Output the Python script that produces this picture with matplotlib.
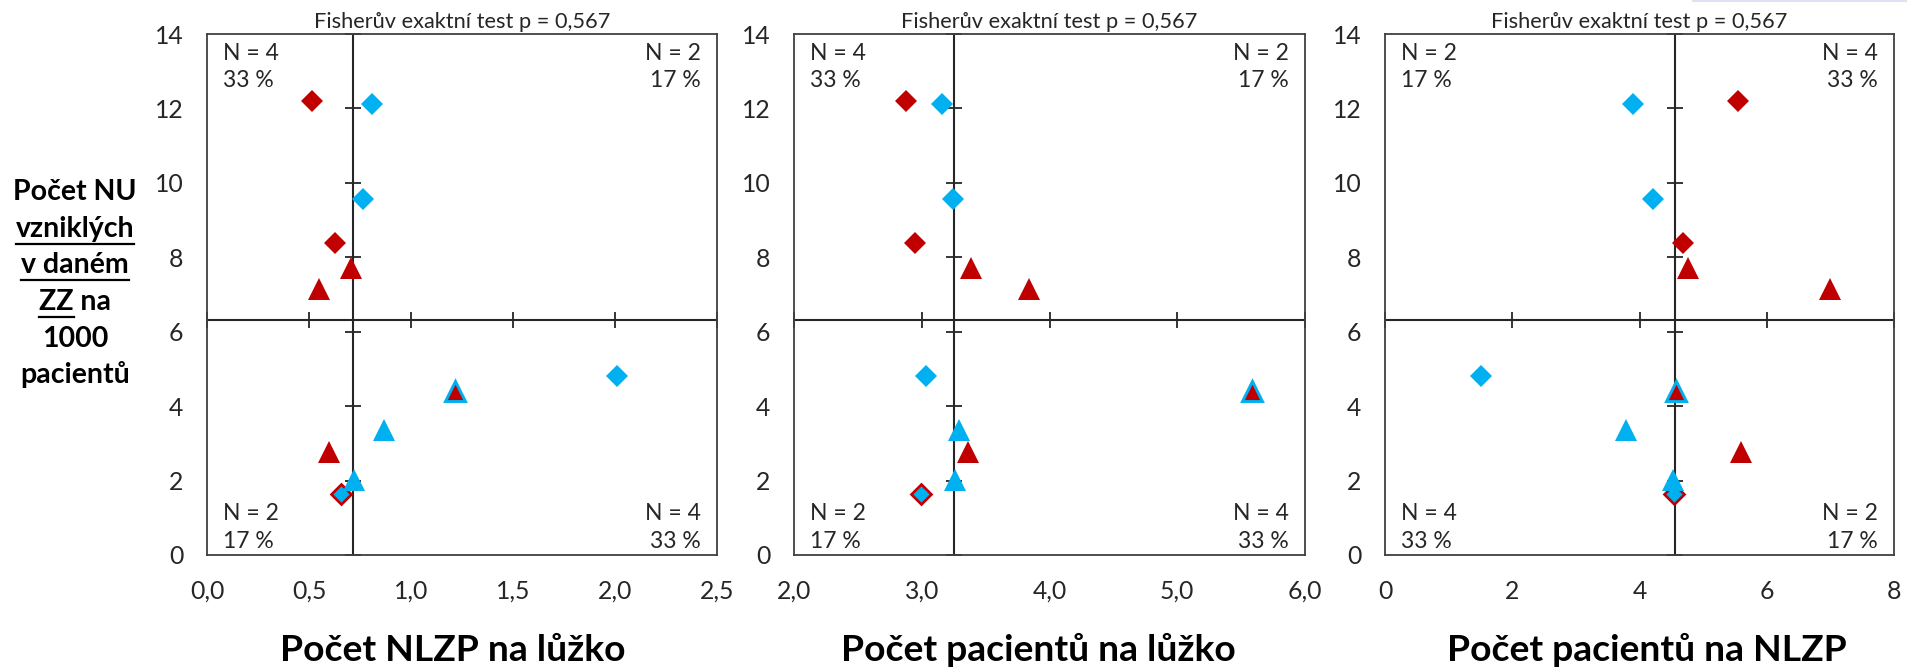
import matplotlib.pyplot as plt
from matplotlib.lines import Line2D
import numpy as np

plt.rcParams['font.family'] = ['Lato', 'DejaVu Sans']

RED = "#C00000"
CYAN = "#00B0F0"
DARK = "#262626"

# Počet NU vzniklých v daném ZZ na 1000 pacientů (společná osa y pro všechny panely)
nu_rate = [12.21, 12.13, 9.56, 8.38, 7.71, 7.14, 4.82, 4.41, 3.36, 2.78, 2.01, 1.64]
# typ bodu pro každé ZZ
point_kind = ["red_d", "cyan_d", "cyan_d", "red_d", "red_t", "red_t",
              "cyan_d", "red_t_cyan", "cyan_t", "red_t", "cyan_t", "cyan_d_red"]

# hodnoty na ose x pro každé ZZ (stejné pořadí jako nu_rate)
nlzp_per_bed = [0.516, 0.808, 0.766, 0.628, 0.708, 0.548, 2.008, 1.218, 0.868, 0.599, 0.722, 0.657]
patients_per_bed = [2.878, 3.157, 3.244, 2.949, 3.385, 3.837, 3.032, 5.587, 3.295, 3.359, 3.260, 2.994]
patients_per_nlzp = [5.545, 3.904, 4.212, 4.679, 4.769, 6.987, 1.506, 4.577, 3.795, 5.603, 4.532, 4.545]

y_cross = 6.31
y_ticks = [0, 2, 4, 6, 8, 10, 12, 14]

x_labels = ["Počet NLZP na lůžko", "Počet pacientů na lůžko", "Počet pacientů na NLZP"]
x_limits = [(0, 2.5), (2, 6), (0, 8)]
x_ticks = [[0, 0.5, 1.0, 1.5, 2.0, 2.5], [2, 3, 4, 5, 6], [0, 2, 4, 6, 8]]
x_ticklabels = [["0,0", "0,5", "1,0", "1,5", "2,0", "2,5"],
                ["2,0", "3,0", "4,0", "5,0", "6,0"],
                ["0", "2", "4", "6", "8"]]
fisher_title = "Fisherův exaktní test p = 0,567"

y_label_lines = ["Počet NU", "vzniklých", "v daném", "ZZ na", "1000", "pacientů"]
y_label_underline = ["", "vzniklých", "v daném", "ZZ", "", ""]

# marker styles per point kind, in drawing order (diamonds below triangles)
styles = {
    "red_d":      dict(marker="D", ms=11.3, mfc=RED, mec=RED, mew=0),
    "cyan_d":     dict(marker="D", ms=11.3, mfc=CYAN, mec=CYAN, mew=0),
    "cyan_d_red": dict(marker="D", ms=10.0, mfc=CYAN, mec=RED, mew=1.9),
    "red_t":      dict(marker="^", ms=16, mfc=RED, mec=RED, mew=0),
    "cyan_t":     dict(marker="^", ms=16, mfc=CYAN, mec=CYAN, mew=0),
    "red_t_cyan": dict(marker="^", ms=14.2, mfc=RED, mec=CYAN, mew=2.1),
}

W, H = 1907, 668
fig = plt.figure(figsize=(W / 100, H / 100), dpi=100)
panel_px = [(207, 717), (794, 1305), (1385, 1894)]
xlabel_center_px = [453, 1038, 1647]
top_px, bottom_px = 34, 555

y = np.array(nu_rate)
kinds = np.array(point_kind)
for i, xs in enumerate([nlzp_per_bed, patients_per_bed, patients_per_nlzp]):
    xs = np.array(xs)
    l, r = panel_px[i]
    ax = fig.add_axes([l / W, (H - bottom_px) / H, (r - l) / W, (bottom_px - top_px) / H])
    ax.set_xlim(*x_limits[i])
    ax.set_ylim(0, 14)
    ax.set_xticks(x_ticks[i])
    ax.set_xticklabels(x_ticklabels[i])
    ax.set_yticks(y_ticks)
    ax.tick_params(length=0, labelsize=17.8, labelcolor=DARK)
    ax.tick_params(axis="y", pad=17)
    ax.tick_params(axis="x", pad=18)
    for sp in ax.spines.values():
        sp.set_color("#404040")
        sp.set_linewidth(1.3)

    # crossing axes: median of x, fixed y value
    xc = np.median(xs)
    ax.axvline(xc, color=DARK, lw=1.5, zorder=2)
    ax.axhline(y_cross, color=DARK, lw=1.5, zorder=2)
    ax.plot([xc] * len(y_ticks), y_ticks, ls="none", marker="_", ms=12, mew=1.3,
            color=DARK, clip_on=False, zorder=2)
    ax.plot(x_ticks[i], [y_cross] * len(x_ticks[i]), ls="none", marker="|", ms=12,
            mew=1.3, color=DARK, clip_on=False, zorder=2)

    for z, (kind, st) in enumerate(styles.items()):
        sel = kinds == kind
        ax.plot(xs[sel], y[sel], ls="none", zorder=3 + z, **st)

    ax.set_title(fisher_title, fontsize=15.7, color=DARK, pad=4)

    # quadrant counts
    n = len(xs)
    quads = {
        "tl": np.sum((xs < xc) & (y > y_cross)),
        "tr": np.sum((xs > xc) & (y > y_cross)),
        "bl": np.sum((xs < xc) & (y < y_cross)),
        "br": np.sum((xs > xc) & (y < y_cross)),
    }
    pos = {"tl": (0.031, 0.950, 0.898, "left"), "tr": (0.969, 0.950, 0.898, "right"),
           "bl": (0.031, 0.0672, 0.0134, "left"), "br": (0.969, 0.0672, 0.0134, "right")}
    for q, cnt in quads.items():
        qx, qy1, qy2, ha = pos[q]
        ax.text(qx, qy1, f"N = {cnt}", transform=ax.transAxes, ha=ha, va="baseline",
                fontsize=16.5, color=DARK)
        ax.text(qx, qy2, f"{round(100 * cnt / n)} %", transform=ax.transAxes, ha=ha,
                va="baseline", fontsize=16.5, color=DARK)

    fig.text(xlabel_center_px[i] / W, (H - 661) / H, x_labels[i],
             ha="center", va="baseline", fontsize=26.8, fontweight="bold", color="black")

# y label block with underlined words
renderer = fig.canvas.get_renderer()
for k, (line, ul) in enumerate(zip(y_label_lines, y_label_underline)):
    base = 200 + 36.7 * k
    t = fig.text(75 / W, (H - base) / H, line, ha="center", va="baseline",
                 fontsize=20.5, fontweight="bold", color="black")
    bb = t.get_window_extent(renderer)
    if ul:
        tmp = fig.text(bb.x0 / W, (H - base) / H, ul, ha="left", va="baseline",
                       fontsize=20.5, fontweight="bold")
        ub = tmp.get_window_extent(renderer)
        tmp.remove()
        uy = (H - base - 7) / H
        fig.add_artist(Line2D([ub.x0 / W, ub.x1 / W], [uy, uy], color="black", lw=1.6))

# faint selection line at the top right edge of the screenshot
fig.add_artist(Line2D([1693 / W, 1.0], [1 - 1 / H, 1 - 1 / H], color="#dde1f2", lw=1.5))

fig.savefig("out.png", dpi=100)
